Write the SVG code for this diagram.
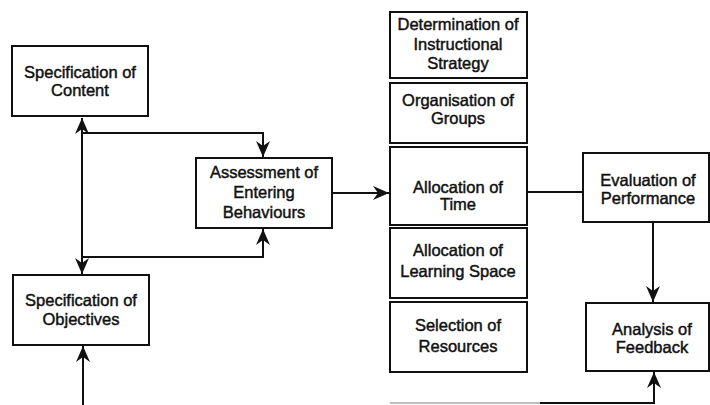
<svg xmlns="http://www.w3.org/2000/svg" width="710" height="405" viewBox="0 0 710 405">
<style>
.box{fill:#fff;stroke:#111;stroke-width:2}
.t{font-family:"Liberation Sans",Arial,sans-serif;font-size:16.5px;fill:#111;stroke:#111;stroke-width:0.45;text-anchor:middle}
.c{fill:none;stroke:#111;stroke-width:2}
</style>
<defs>
<marker id="ah" markerUnits="userSpaceOnUse" markerWidth="18" markerHeight="14" refX="16" refY="7" orient="auto">
<path d="M0,0 L16,7 L0,14 L5,7 z" fill="#111"/>
</marker>
</defs>
<rect width="710" height="405" fill="#fff"/>
<g id="connectors">
<path class="c" d="M82,200 V118" marker-end="url(#ah)"/>
<path class="c" d="M82,200 V274" marker-end="url(#ah)"/>
<path class="c" d="M82,133 H263 V157" marker-end="url(#ah)"/>
<path class="c" d="M82,257 H263 V229" marker-end="url(#ah)"/>
<path class="c" d="M332,193 H389" marker-end="url(#ah)"/>
<path class="c" d="M527,192 H583"/>
<path class="c" d="M653,222 V302" marker-end="url(#ah)"/>
<path d="M390,403 H540" fill="none" stroke="#aaa" stroke-width="1.5"/>
<path class="c" d="M540,403 H654 V372" marker-end="url(#ah)"/>
<path class="c" d="M83,405 V346" marker-end="url(#ah)"/>
</g>
<g id="content"><rect class="box" x="12" y="46" width="136" height="70"/>
<text class="t" x="80" y="78">Specification of</text><text class="t" x="80" y="96">Content</text></g>
<g id="objectives"><rect class="box" x="13" y="275" width="136" height="70"/>
<text class="t" x="81" y="306">Specification of</text><text class="t" x="81" y="325">Objectives</text></g>
<g id="assessment"><rect class="box" x="196" y="158" width="136" height="70"/>
<text class="t" x="264" y="178">Assessment of</text><text class="t" x="264" y="198">Entering</text><text class="t" x="264" y="218">Behaviours</text></g>
<g id="strategy"><rect class="box" x="390" y="12" width="137" height="66"/>
<text class="t" x="458" y="30">Determination of</text><text class="t" x="458" y="50">Instructional</text><text class="t" x="458" y="69">Strategy</text></g>
<g id="groups"><rect class="box" x="390" y="83" width="137" height="60"/>
<text class="t" x="458" y="106">Organisation of</text><text class="t" x="458" y="124">Groups</text></g>
<g id="time"><rect class="box" x="390" y="147" width="137" height="78"/>
<text class="t" x="458" y="193">Allocation of</text><text class="t" x="458" y="210">Time</text></g>
<g id="space"><rect class="box" x="390" y="228" width="137" height="70"/>
<text class="t" x="458" y="256">Allocation of</text><text class="t" x="458" y="277">Learning Space</text></g>
<g id="resources"><rect class="box" x="390" y="302" width="137" height="70"/>
<text class="t" x="458" y="331">Selection of</text><text class="t" x="458" y="352">Resources</text></g>
<g id="evaluation"><rect class="box" x="583" y="153" width="126" height="69"/>
<text class="t" x="648" y="186">Evaluation of</text><text class="t" x="648" y="204">Performance</text></g>
<g id="analysis"><rect class="box" x="586" y="303" width="123" height="68"/>
<text class="t" x="652" y="335">Analysis of</text><text class="t" x="652" y="353">Feedback</text></g>
</svg>
